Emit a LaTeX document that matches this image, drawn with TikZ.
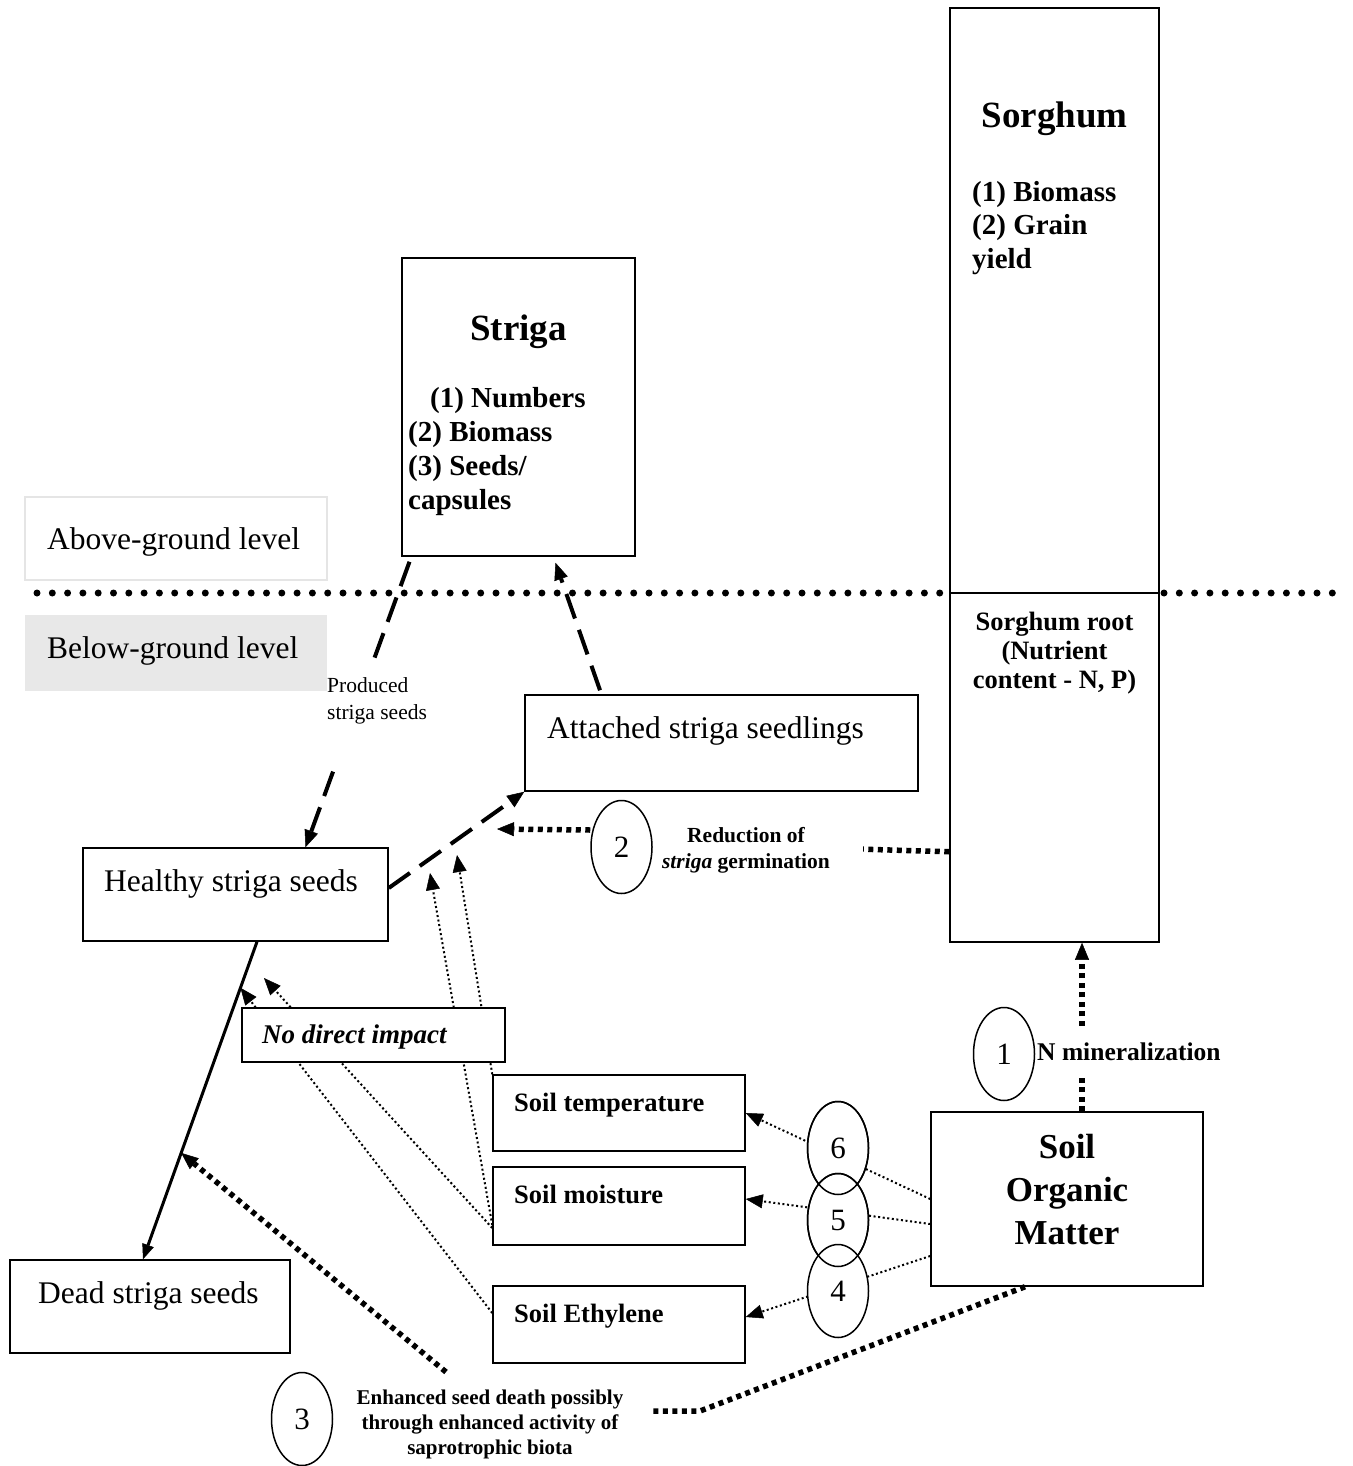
\documentclass[tikz,border=0pt]{standalone}
\usepackage{fontspec}
\setmainfont{Liberation Serif}
\usetikzlibrary{arrows.meta,calc,shapes.geometric}
\pgfdeclarelayer{bg}
\pgfsetlayers{bg,main}
\begin{document}
\begin{tikzpicture}[x=1pt,y=-1pt,
 box/.style={draw,line width=1.5pt,rectangle,inner sep=0pt},
 numel/.style={draw,line width=1.5pt,ellipse,inner sep=0pt,minimum width=61pt,minimum height=93pt,fill=white,font=\fontsize{31}{36}\selectfont},
 lbl/.style={inner sep=0pt},
 regtxt/.style={lbl,font=\fontsize{31.5}{36}\selectfont},
 dasharr/.style={line width=4pt,dash pattern=on 26pt off 12pt},
 thickdot/.style={line width=5.5pt,dash pattern=on 5pt off 4.5pt},
 thindot/.style={line width=2pt,dash pattern=on 2pt off 2.6pt},
 tip/.style={-{Triangle[length=17pt,width=14pt,line width=0.5pt]}},
]
\useasboundingbox (0,0) rectangle (1352,1466);

% boxes
\node[box,minimum width=209pt,minimum height=934pt] (sorghum) at (1054.5,475) {};
\node[box,minimum width=233pt,minimum height=298pt] (striga) at (518.5,407) {};
\node[draw=black!10,line width=1.5pt,minimum width=302pt,minimum height=83pt,inner sep=0pt] (above) at (176,538.5) {};
\node[fill=black!9,minimum width=302pt,minimum height=76pt,inner sep=0pt] (below) at (176,653) {};
\node[box,minimum width=393pt,minimum height=96pt] (attached) at (721.5,743) {};
\node[box,minimum width=305pt,minimum height=93pt] (healthy) at (235.5,894.5) {};
\node[box,minimum width=280pt,minimum height=93pt] (dead) at (150,1306.5) {};
\node[box,fill=white,minimum width=263pt,minimum height=54pt] (nodirect) at (373.5,1035) {};
\node[box,minimum width=252pt,minimum height=76pt] (temp) at (619,1113) {};
\node[box,minimum width=252pt,minimum height=78pt] (moist) at (619,1206) {};
\node[box,minimum width=252pt,minimum height=77pt] (eth) at (619,1324.5) {};
\node[box,minimum width=272pt,minimum height=174pt] (som) at (1067,1199) {};

% texts (multi-line nodes: base = baseline of last line)
\node[lbl,anchor=base,font=\bfseries\fontsize{37}{40}\selectfont] (sorghumtitle) at (1054.5,128) {Sorghum};
\node[lbl,anchor=base west,align=left,font=\bfseries\fontsize{29}{33.5}\selectfont] (sorghumlist) at (972,268) {(1) Biomass\\(2) Grain\\yield};
\node[lbl,anchor=base,align=center,font=\bfseries\fontsize{26.5}{29}\selectfont] (rootlbl) at (1054.5,688) {Sorghum root\\(Nutrient\\content - N, P)};
\node[lbl,anchor=base,font=\bfseries\fontsize{37}{40}\selectfont] (strigatitle) at (518.5,340) {Striga};
\node[lbl,anchor=base west,align=left,font=\bfseries\fontsize{29}{34}\selectfont] (strigalist) at (408,509) {\hspace*{22pt}(1) Numbers\\(2) Biomass\\(3) Seeds/\\capsules};
\node[regtxt,anchor=base west] (abovetxt) at (47,549) {Above-ground level};
\node[regtxt,anchor=base west] (belowtxt) at (47,658) {Below-ground level};
\node[regtxt,anchor=base west] (attachedtxt) at (547,738) {Attached striga seedlings};
\node[regtxt,anchor=base west] (healthytxt) at (104,891) {Healthy striga seeds};
\node[regtxt,anchor=base west] (deadtxt) at (38,1303) {Dead striga seeds};
\node[lbl,anchor=base west,font=\bfseries\itshape\fontsize{27}{30}\selectfont] (nodirecttxt) at (262,1043) {No direct impact};
\node[lbl,anchor=base west,font=\bfseries\fontsize{26.5}{30}\selectfont] (temptxt) at (514,1111) {Soil temperature};
\node[lbl,anchor=base west,font=\bfseries\fontsize{26.5}{30}\selectfont] (moisttxt) at (514,1203) {Soil moisture};
\node[lbl,anchor=base west,font=\bfseries\fontsize{26.5}{30}\selectfont] (ethtxt) at (514,1322) {Soil Ethylene};
\node[lbl,anchor=base,align=center,font=\bfseries\fontsize{35}{43}\selectfont] (somtxt) at (1067,1244) {Soil\\Organic\\Matter};
\node[lbl,anchor=base west,align=left,font=\fontsize{21.5}{27}\selectfont] (producedtxt) at (327,719) {Produced\\striga seeds};
\node[lbl,fill=white,inner xsep=33pt,inner ysep=4pt,anchor=base,align=center,font=\bfseries\fontsize{21.5}{26}\selectfont] (redtxt) at (746,868) {Reduction of\\\textit{striga} germination};
\node[lbl,fill=white,minimum height=51pt,inner xsep=2pt,anchor=west,font=\bfseries\fontsize{25.5}{30}\selectfont] (nmintxt) at (1035,1052) {N mineralization};
\node[lbl,anchor=base,align=center,font=\bfseries\fontsize{21}{25}\selectfont] (enhtxt) at (490,1454) {Enhanced seed death possibly\\through enhanced activity of\\saprotrophic biota};

% numbered ellipses
\node[numel] (e1) at (1004,1054) {1};
\node[numel] (e2) at (621.5,847) {2};
\node[numel] (e3) at (302,1419) {3};
\node[numel] (e6) at (838,1148) {6};
\node[numel] (e5) at (838,1220) {5};
\node[numel] (e4) at (838,1291) {4};
\draw[line width=1.5pt] (e6.center) ellipse [x radius=30.5pt,y radius=46.5pt];
\draw[line width=1.5pt] (e5.center) ellipse [x radius=30.5pt,y radius=46.5pt];

% connectors
\begin{pgfonlayer}{bg}
% ground line
\coordinate (gl1) at (37,593);
\coordinate (gl2) at (940,593);
\coordinate (gl3) at (1164,593);
\coordinate (gl4) at (1344,593);
\draw[line width=7pt,line cap=round,dash pattern=on 0pt off 15.3pt] (gl1) -- (gl2);
\draw[line width=7pt,line cap=round,dash pattern=on 0pt off 15.3pt] (gl3) -- (gl4);
\draw[line width=1.5pt] (sorghum.west |- gl1) -- (sorghum.east |- gl1);

% striga -> healthy seeds
\coordinate (s1) at ([xshift=-109pt,yshift=-5pt]striga.south);
\coordinate (s2) at ([xshift=70pt]healthy.north);
\draw[dasharr] (s1) -- ($(s1)!0.345!(s2)$);
\draw[dasharr,tip] ($(s1)!0.735!(s2)$) -- (s2);
% attached -> striga
\draw[dasharr,tip] ([xshift=-121.5pt,yshift=4pt]attached.north) -- ([xshift=37pt,yshift=-6pt]striga.south);
% healthy -> attached
\draw[dasharr,tip] ([yshift=6.5pt]healthy.east) -- (attached.south west);
% healthy -> dead
\coordinate (h1) at ([xshift=21.5pt]healthy.south);
\coordinate (d1) at ([xshift=-7pt]dead.north);
\draw[line width=3pt,-{Triangle[length=15pt,width=12pt,line width=0.5pt]}] (h1) -- (d1);

% sorghum root -> 2 -> germination
\draw[thickdot] ($(sorghum.south west)+(0,-91)$) -- ([yshift=4pt]e2.east);
\coordinate (c2tip) at (497,829);
\draw[thickdot,tip] ([yshift=17pt]e2.west) -- (c2tip);

% SOM -> sorghum (1)
\draw[thickdot,tip] ([xshift=15pt]som.north) -- ([xshift=27.5pt]sorghum.south);

% SOM -> soil factors
\draw[thindot,tip] (som.west) -- (temp.east);
\draw[thindot,tip] ([yshift=-25pt]som.west) -- ([yshift=7pt]moist.east);
\draw[thindot,tip] ([yshift=-57pt]som.west) -- ([yshift=7.5pt]eth.east);

% soil factors -> seeds
\coordinate (ta) at ($(h1)!0.145!(d1)$);
\coordinate (tb) at (264,978);
\coordinate (tc) at (430,873);
\coordinate (td) at (457,855);
\draw[thindot,tip] ([yshift=11.5pt]eth.west) -- (ta);
\draw[thindot,tip] ([yshift=-22pt]moist.west) -- (tb);
\draw[thindot,tip] ([yshift=-19pt]moist.west) -- (tc);
\draw[thindot,tip] (temp.north west) -- (td);

% SOM -> 3 -> seed death
\coordinate (k1) at (700,1411);
\coordinate (k2) at (652,1411);
\coordinate (k3) at (446,1372);
\draw[thickdot] ([xshift=-42pt]som.south) -- (k1) -- (k2);
\draw[thickdot,tip] (k3) -- ($(h1)!0.665!(d1)$);
\end{pgfonlayer}
\end{tikzpicture}
\end{document}
